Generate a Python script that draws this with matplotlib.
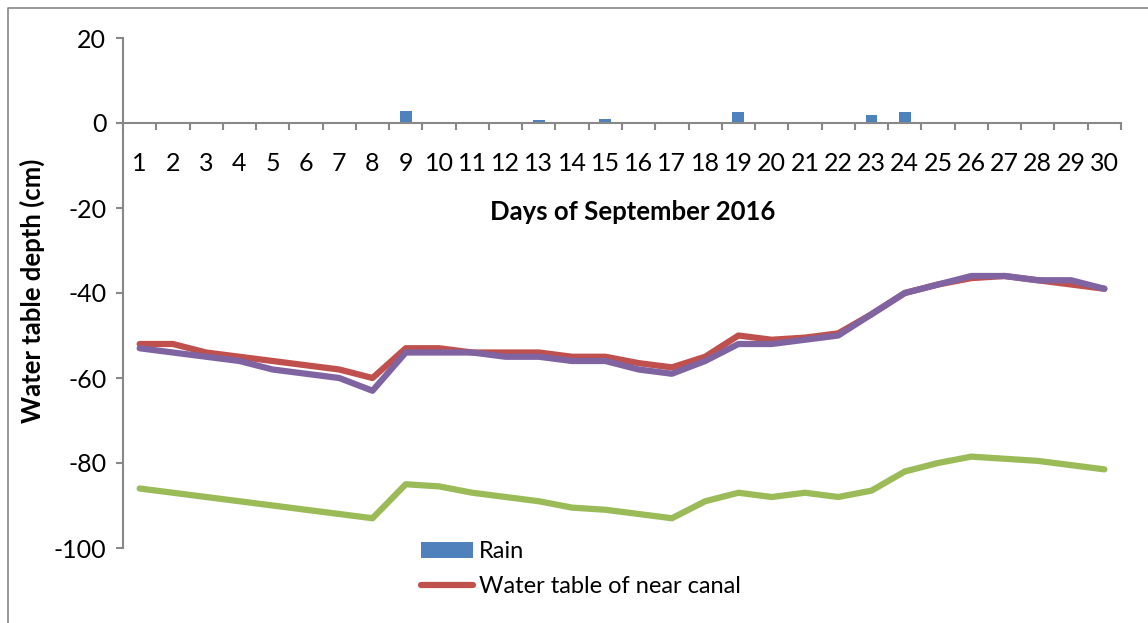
import matplotlib.pyplot as plt
from matplotlib.lines import Line2D

plt.rcParams['font.family'] = ['Lato', 'DejaVu Sans']
plt.rcParams['axes.unicode_minus'] = False

days = list(range(1, 31))
day_labels = [str(d) for d in days]

rain = [0, 0, 0, 0, 0, 0, 0, 0, 2.8, 0, 0, 0, 0.7, 0, 1.0,
        0, 0, 0, 2.7, 0, 0, 0, 2.0, 2.5, 0, 0, 0, 0, 0, 0]

near_canal = [-52, -52, -54, -55, -56, -57, -58, -60, -53, -53,
              -54, -54, -54, -55, -55, -56.5, -57.5, -55, -50, -51,
              -50.5, -49.5, -45, -40, -38, -36.5, -36, -37, -38, -39]

middle = [-53, -54, -55, -56, -58, -59, -60, -63, -54, -54,
          -54, -55, -55, -56, -56, -58, -59, -56, -52, -52,
          -51, -50, -45, -40, -38, -36, -36, -37, -37, -39]

far_canal = [-86, -87, -88, -89, -90, -91, -92, -93, -85, -85.5,
             -87, -88, -89, -90.5, -91, -92, -93, -89, -87, -88,
             -87, -88, -86.5, -82, -80, -78.5, -79, -79.5, -80.5, -81.5]

W, H = 1148, 623
fig = plt.figure(figsize=(W / 100, H / 100), dpi=100)
ax = fig.add_axes([123 / W, 1 - 548 / H, (1121 - 123) / W, (548 - 38) / H])

bars = ax.bar(days, rain, width=0.36, color='#4F81BD', label='Rain', zorder=2)
l1, = ax.plot(days, near_canal, color='#C0504D', lw=4.5,
              solid_capstyle='round', label='Water table of near canal', zorder=3)
ax.plot(days, middle, color='#8064A2', lw=4.5, solid_capstyle='round', zorder=4)
ax.plot(days, far_canal, color='#9BBB59', lw=4.5, solid_capstyle='round', zorder=4)

ax.set_xlim(0.5, 30.5)
ax.set_ylim(-100, 20)
ax.set_yticks(range(-100, 21, 20))
ax.set_xticks(days)
ax.set_xticklabels(day_labels)
ax.set_xticks([d + 0.5 for d in range(0, 31)], minor=True)

for s in ['top', 'right']:
    ax.spines[s].set_visible(False)
ax.spines['bottom'].set_position(('data', 0))
ax.spines['bottom'].set_color('#888888')
ax.spines['left'].set_color('#888888')
ax.spines['bottom'].set_linewidth(1.5)
ax.spines['left'].set_linewidth(1.5)

ax.tick_params(axis='x', which='major', length=0, pad=21, labelsize=18)
ax.tick_params(axis='x', which='minor', length=5, width=1.5, color='#888888',
               direction='out')
ax.tick_params(axis='y', length=5, width=1.5, color='#888888', pad=7,
               labelsize=18)

fig.text(633 / W, 1 - 212 / H, 'Days of September 2016', fontsize=18.5,
         fontweight='bold', ha='center', va='center')
fig.text(32 / W, 1 - 291 / H, 'Water table depth (cm)', fontsize=18.5,
         fontweight='bold', ha='center', va='center', rotation=90)

fig.legend(handles=[bars, l1], loc='upper left',
           bbox_to_anchor=(400 / W, 1 - 520 / H), frameon=False,
           fontsize=17, handlelength=2.2, handletextpad=0.25, labelspacing=0.6)

# outer chart frame (clipped at right and bottom)
fig.add_artist(Line2D([8 / W, 8 / W, 1.0], [0.0, 1 - 8 / H, 1 - 8 / H],
                      transform=fig.transFigure, color='#888888', lw=1.2))

fig.savefig('out.png', dpi=100)
